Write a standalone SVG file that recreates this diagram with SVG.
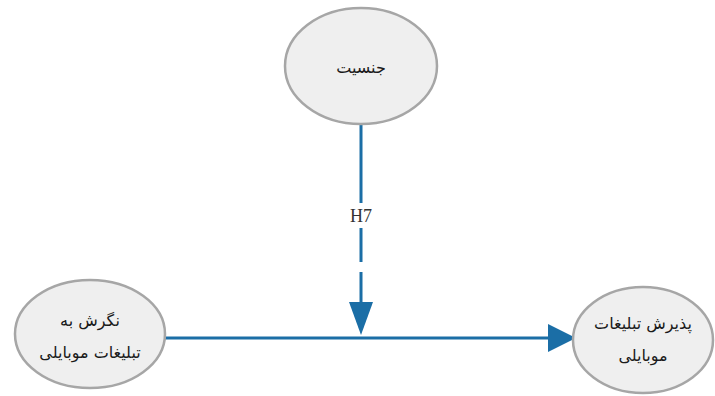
<svg xmlns="http://www.w3.org/2000/svg" width="715" height="396" viewBox="0 0 715 396">
<defs>
<style>
.node{fill:#efefef;stroke:#a6a6a6;stroke-width:2.5}
.lbl{font-family:"DejaVu Sans","Noto Sans",sans-serif;font-size:16px;fill:#1a1a1a;text-anchor:middle;direction:rtl}
.edge{stroke:#1b6ea6;stroke-width:3;fill:none}
.head{fill:#1b6ea6}
.h{font-family:"Liberation Serif",serif;font-size:18px;fill:#333;text-anchor:middle}
</style>
</defs>
<rect width="715" height="396" fill="#fff"/>
<g id="connectors">
<line class="edge" x1="165" y1="338" x2="552" y2="338"/>
<polygon class="head" points="548,324 576,338 548,352"/>
<path class="edge" d="M361 125 V203 M361 228 V262 M361 272 V305" />
<polygon class="head" points="349,302 373,302 361,335"/>
<text class="h" x="361" y="222">H7</text>
</g>
<g id="gender">
<ellipse class="node" cx="361" cy="66" rx="76" ry="58"/>
<text class="lbl" x="361" y="73">جنسیت</text>
</g>
<g id="attitude">
<ellipse class="node" cx="90" cy="334" rx="75" ry="54"/>
<text class="lbl" x="90" y="326">نگرش به</text>
<text class="lbl" x="90" y="358">تبلیغات موبایلی</text>
</g>
<g id="acceptance">
<ellipse class="node" cx="643" cy="340" rx="70" ry="53"/>
<text class="lbl" x="643" y="329">پذیرش تبلیغات</text>
<text class="lbl" x="643" y="361">موبایلی</text>
</g>
</svg>
